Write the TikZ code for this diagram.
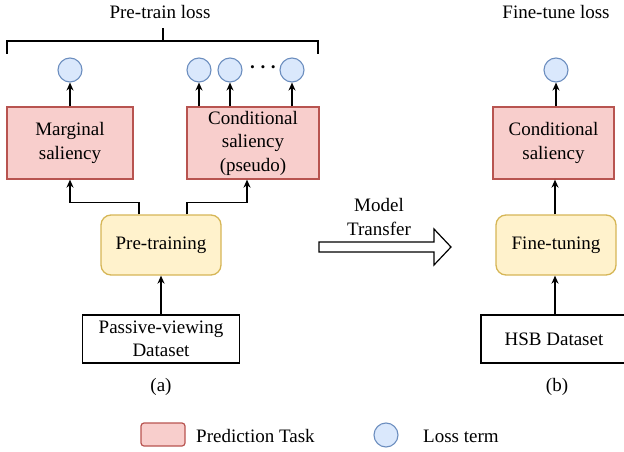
\documentclass[tikz,border=0pt]{standalone}
\usepackage{fontspec}
\setmainfont{Liberation Serif}
\usetikzlibrary{arrows.meta,positioning}
\definecolor{pinkf}{HTML}{F8CECC}
\definecolor{pinkd}{HTML}{B85450}
\definecolor{yelf}{HTML}{FFF2CC}
\definecolor{yeld}{HTML}{D6B656}
\definecolor{bluf}{HTML}{DAE8FC}
\definecolor{blud}{HTML}{6C8EBF}
\begin{document}
\begin{tikzpicture}[x=1pt,y=-1pt,
  every node/.style={font=\fontsize{19}{23.5}\selectfont, inner sep=0pt},
  task/.style={draw=pinkd, fill=pinkf, line width=1.3pt, align=center},
  train/.style={draw=yeld, fill=yelf, line width=1.3pt, rounded corners=10pt, align=center},
  data/.style={draw=black, line width=1.3pt, align=center},
  loss/.style={circle, draw=blud, fill=bluf, line width=1.1pt, minimum size=24pt},
  arr/.style={-{Stealth[length=8pt,width=7pt]}, line width=1.4pt},
  label/.style={align=center}]
\useasboundingbox (0,0) rectangle (624,452);
% bracket
\draw[line width=2.4pt] (7,54) -- (7,41) -- (318,41) -- (318,54);
\draw[line width=2.4pt] (163,41) -- (163,28);
\node[anchor=base] (ptl) at (160,19) {Pre-train loss};
\node[anchor=base] (ftl) at (556,19) {Fine-tune loss};
% boxes
\node[task, minimum width=126pt, minimum height=72pt] (marg) at (70,143) {Marginal\\saliency};
\node[task, minimum width=132pt, minimum height=72pt] (cond) at (253,143) {Conditional\\saliency\\(pseudo)};
\node[train, minimum width=120pt, minimum height=60pt] (pre) at (161,245) {Pre-training};
\node[data, minimum width=157pt, minimum height=48pt] (pas) at (161,339) {Passive-viewing\\Dataset};
\node[task, minimum width=121pt, minimum height=72pt] (fcond) at (553.5,143) {Conditional\\saliency};
\node[train, minimum width=120pt, minimum height=60pt] (fine) at (556,245) {Fine-tuning};
\node[data, minimum width=146pt, minimum height=48pt] (hsb) at (554,339) {HSB Dataset};
% loss circles
\node[loss] (l0) at (70,70) {};
\node[loss] (l1) at (199,70) {};
\node[loss] (l2) at (230,70) {};
\node[loss] (l3) at (292,70) {};
\node[loss] (l4) at (556,70) {};
\node (dots) at (263,70) {\textbf{·\hspace{4pt}·\hspace{4pt}·}};
% arrows
\draw[arr] (marg.north) -- (l0.south);
\draw[arr] (cond.north -| l1) -- (l1.south);
\draw[arr] (cond.north -| l2) -- (l2.south);
\draw[arr] (cond.north -| l3) -- (l3.south);
\draw[arr] (fcond.north -| l4) -- (l4.south);
\draw[arr] ([xshift=-22pt]pre.north) -- ++(0,-12) -| (marg.south);
\draw[arr] ([xshift=26pt]pre.north) -- ++(0,-12) -| ([xshift=-6pt]cond.south);
\draw[arr] (pas.north) -- (pas.north |- pre.south);
\draw[arr] (fine.north -| 555,0) -- (fcond.south -| 555,0);
\draw[arr] (hsb.north -| 555,0) -- (fine.south -| 555,0);
% transfer arrow
\draw[line width=1.2pt, fill=white] (319,242) -- (434,242) -- (434,229) -- (451,247) -- (434,265) -- (434,252) -- (319,252) -- cycle;
\node[label] (mt) at (379,217) {Model\\Transfer};
% captions
\node (ca) at (161,387) {(a)};
\node (cb) at (557,387) {(b)};
% legend
\draw[draw=pinkd, fill=pinkf, line width=1.2pt, rounded corners=3pt] (141,423) rectangle (185,446);
\node[anchor=west] (lt1) at (196,436) {Prediction Task};
\node[loss] (lc) at (386,435) {};
\node[anchor=west] (lt2) at (423,436) {Loss term};
\end{tikzpicture}
\end{document}
